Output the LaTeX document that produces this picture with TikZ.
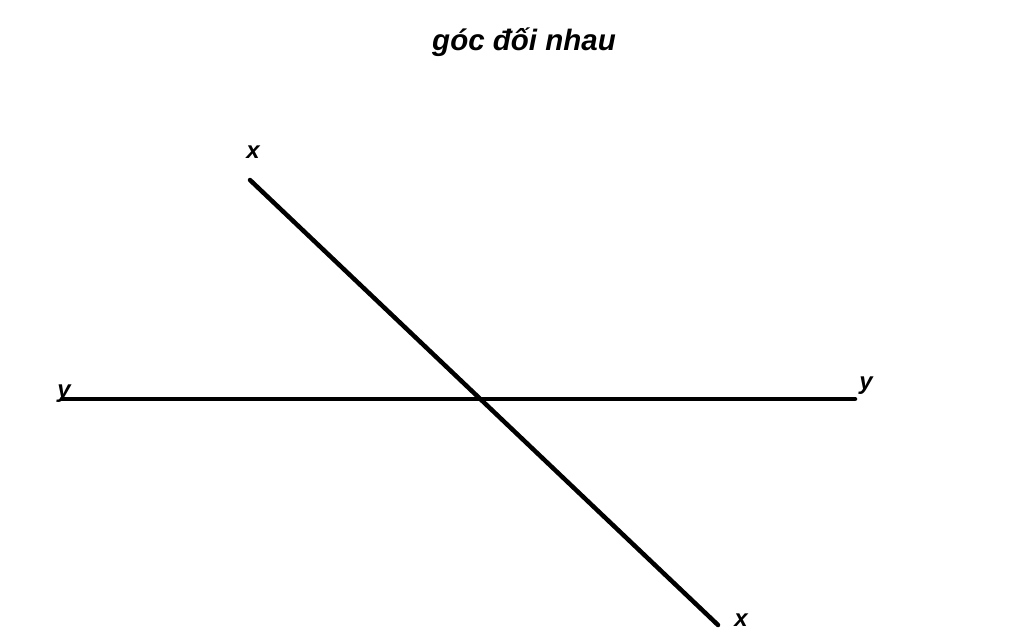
\documentclass[tikz,border=0pt]{standalone}
\usepackage{fontspec}
\setmainfont{Liberation Sans}
\begin{document}
\begin{tikzpicture}[x=1pt,y=-1pt,
  lbl/.style={font=\fontsize{24}{28}\selectfont\bfseries\itshape, inner sep=0pt},
  ln/.style={line width=4.5pt, line cap=round}]
\useasboundingbox[fill=white] (0,0) rectangle (1024,638);
\node[font=\fontsize{29.5}{34}\selectfont\bfseries\itshape, inner sep=0pt] (title) at (524,42) {góc đối nhau};
\coordinate (x1) at (250,180);
\coordinate (x2) at (718,625);
\coordinate (y1) at (62,399);
\coordinate (y2) at (855,399);
\draw[ln] (y1) -- (y2);
\draw[ln] (x1) -- (x2);
\node[lbl] (lx1) at (253,152) {x};
\node[lbl] (ly1) at (64,394) {y};
\node[lbl] (ly2) at (866,386) {y};
\node[lbl] (lx2) at (741,620) {x};
\end{tikzpicture}
\end{document}
